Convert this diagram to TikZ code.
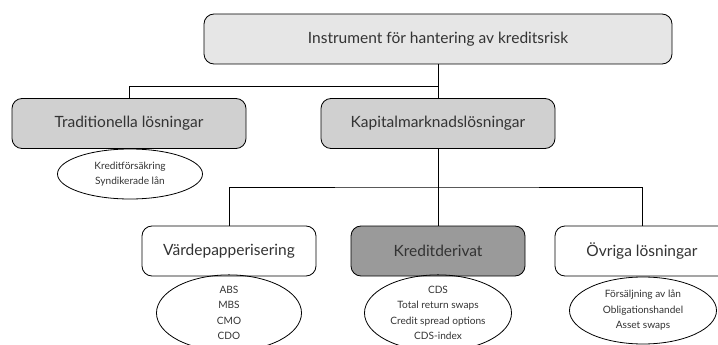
\documentclass[tikz,border=0pt]{standalone}
\usepackage{fontspec}
\setmainfont{Lato}
\usetikzlibrary{shapes.geometric,positioning}

\definecolor{txtgray}{HTML}{333333}
\definecolor{topgray}{HTML}{E6E6E6}
\definecolor{midgray}{HTML}{D0D0D0}
\definecolor{darkgray}{HTML}{9A9A9A}

\tikzset{
	mainbox/.style={draw, line width=0.8pt, rounded corners=10pt,
		text=txtgray, font=\fontsize{15.5}{18}\selectfont,
		minimum height=50pt, inner sep=0pt},
	listell/.style={draw, line width=0.8pt, ellipse, inner sep=0pt,
		text=txtgray, align=center,
		font=\fontsize{10.1}{15.5}\selectfont},
	wire/.style={line width=0.8pt}
}

\begin{document}
\begin{tikzpicture}[x=1pt, y=-1pt]

	\useasboundingbox (0,0) rectangle (718,345);
	\clip (0,0) rectangle (718,345);

	\def\yTop{39}
	\def\yMid{123.5}
	\def\yLow{251}
	\def\yBusA{86}
	\def\yBusB{187}

	% top
	\node[mainbox, fill=topgray, minimum width=468pt] (instr)
		at (438, \yTop) {Instrument för hantering av kreditsrisk};

	% second row
	\node[mainbox, fill=midgray, minimum width=234pt] (trad)
		at (129, \yMid) {Traditionella lösningar};
	\node[mainbox, fill=midgray, minimum width=234pt] (kapital)
		at (438, \yMid) {Kapitalmarknadslösningar};

	% third row
	\node[mainbox, fill=white, minimum width=174pt] (vardepapp)
		at (229, \yLow) {Värdepapperisering};
	\node[mainbox, fill=darkgray, minimum width=174pt] (kredder)
		at (438, \yLow) {Kreditderivat};
	\node[mainbox, fill=white, minimum width=174pt] (ovriga)
		at (642, \yLow) {Övriga lösningar};

	% lists
	\node[listell, minimum width=145pt, minimum height=50pt] (tradlist)
		at (130, 174) {Kreditförsäkring\\Syndikerade lån};
	\node[listell, minimum width=145pt, minimum height=76pt] (vardlist)
		at (229, 313) {ABS\\MBS\\CMO\\CDO};
	\node[listell, minimum width=147pt, minimum height=76pt] (kredlist)
		at (438, 313) {CDS\\Total return swaps\\Credit spread options\\CDS-index};
	\node[listell, minimum width=147pt, minimum height=67pt] (ovrlist)
		at (643, 310.5) {Försäljning av lån\\Obligationshandel\\Asset swaps};

	% tree lines
	\coordinate (busA) at (438, \yBusA);
	\coordinate (busB) at (438, \yBusB);

	\draw[wire]
		(instr.south) -- (kapital.north)
		(trad.north) |- (busA)
		(kapital.south) -- (kredder.north)
		(vardepapp.north) |- (busB) -| (ovriga.north);

\end{tikzpicture}
\end{document}
